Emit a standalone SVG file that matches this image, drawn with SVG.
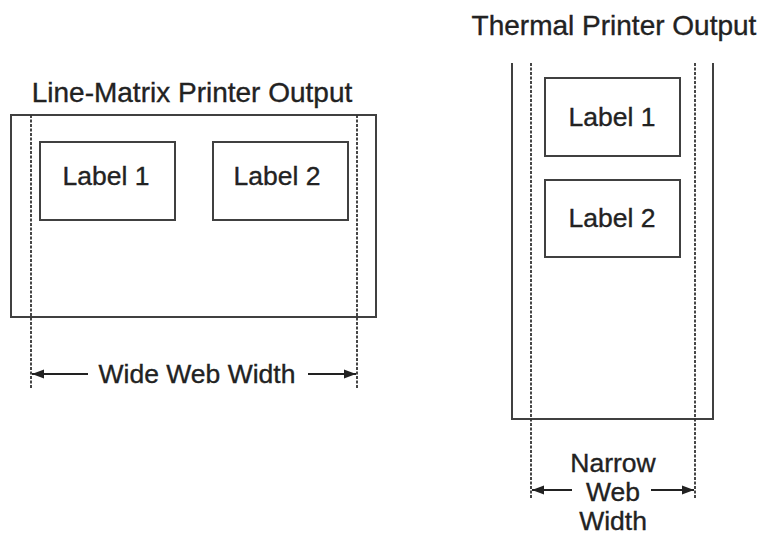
<svg xmlns="http://www.w3.org/2000/svg" width="761" height="535" viewBox="0 0 761 535">
<defs>
<style>
.t{font-family:"Liberation Sans",Arial,sans-serif;fill:#222;stroke:#222;stroke-width:0.35;text-anchor:middle}
.title{font-size:28px}
.lbl{font-size:26.5px}
.box{fill:none;stroke:#404040;stroke-width:2}
.dash{fill:none;stroke:#333;stroke-width:1.8;stroke-dasharray:3 1.5}
.arr{fill:none;stroke:#222;stroke-width:2}
</style>
<marker id="ah" viewBox="0 0 12 10" refX="12" refY="5" markerWidth="12" markerHeight="10" markerUnits="userSpaceOnUse" orient="auto">
<path d="M0,0.5 L12,5 L0,9.5 Z" fill="#222"/>
</marker>
</defs>
<rect width="761" height="535" fill="#fff"/>

<g id="line-matrix">
<text class="t title" x="192" y="102">Line-Matrix Printer Output</text>
<rect class="box" x="11" y="115" width="365" height="202"/>
</g>
<g id="lm-label1">
<rect class="box" x="40" y="142" width="135" height="78"/>
<text class="t lbl" x="106" y="185">Label 1</text>
</g>
<g id="lm-label2">
<rect class="box" x="213" y="142" width="135" height="78"/>
<text class="t lbl" x="277" y="185">Label 2</text>
</g>

<g id="thermal">
<text class="t title" x="614" y="35">Thermal Printer Output</text>
<path class="box" d="M512,63 V419 H713 V63"/>
</g>
<g id="th-label1">
<rect class="box" x="545" y="78" width="135" height="78"/>
<text class="t lbl" x="612" y="126">Label 1</text>
</g>
<g id="th-label2">
<rect class="box" x="545" y="180" width="135" height="77"/>
<text class="t lbl" x="612" y="227">Label 2</text>
</g>

<g id="connectors">
<line class="dash" x1="31" y1="115" x2="31" y2="388"/>
<line class="dash" x1="357" y1="115" x2="357" y2="388"/>
<line class="arr" x1="88" y1="374" x2="32" y2="374" marker-end="url(#ah)"/>
<line class="arr" x1="308" y1="374" x2="356" y2="374" marker-end="url(#ah)"/>
<text class="t lbl" x="197" y="383">Wide Web Width</text>

<line class="dash" x1="531" y1="63" x2="531" y2="498"/>
<line class="dash" x1="695" y1="63" x2="695" y2="498"/>
<line class="arr" x1="572" y1="490" x2="532" y2="490" marker-end="url(#ah)"/>
<line class="arr" x1="651" y1="490" x2="694" y2="490" marker-end="url(#ah)"/>
<text class="t lbl" x="613" y="472">Narrow</text>
<text class="t lbl" x="613" y="501">Web</text>
<text class="t lbl" x="613" y="530">Width</text>
</g>
</svg>
